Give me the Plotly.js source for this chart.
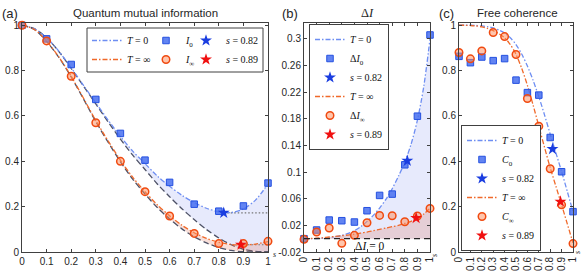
<!DOCTYPE html>
<html><head><meta charset="utf-8">
<script src="https://cdn.plot.ly/plotly-3.0.1.min.js"></script>
<style>html,body{margin:0;padding:0;background:#fff}#plot{width:581px;height:272px}</style>
</head><body><div id="plot"></div>
<script>
// ---------- data ----------
const sGrid = [0,0.1,0.2,0.3,0.4,0.5,0.6,0.7,0.8,0.9,1];
const tGrid = [0,0.05,0.1,0.15,0.2,0.25,0.3,0.35,0.4,0.45,0.5,0.55,0.6,0.65,0.7,0.75,0.8,0.85,0.9,0.95,1];
const xTickText = ['0','0.1','0.2','0.3','0.4','0.5','0.6','0.7','0.8','0.9','1'];
const yTickA = [0,0.2,0.4,0.6,0.8,1];
const yTickAText = ['0','0.2','0.4','0.6','0.8','1'];
const yTickB = [-0.02,0.02,0.06,0.1,0.14,0.18,0.22,0.26,0.3];
const yTickBText = ['-0.02','0.02','0.06','0.1','0.14','0.18','0.22','0.26','0.3'];

// (a) quantum mutual information
const miT0       = [1.0,0.985,0.945,0.885,0.812,0.735,0.658,0.582,0.51,0.445,0.39,0.335,0.29,0.25,0.218,0.193,0.177,0.174,0.19,0.23,0.30];
const miBound0   = [1.0,0.985,0.945,0.884,0.81,0.732,0.653,0.574,0.498,0.427,0.364,0.30,0.244,0.191,0.143,0.099,0.062,0.032,0.012,0.003,0.0];
const miTinf     = [1.0,0.982,0.93,0.86,0.775,0.678,0.58,0.49,0.405,0.33,0.266,0.208,0.16,0.118,0.085,0.06,0.043,0.033,0.031,0.035,0.046];
const miBoundInf = [1.0,0.982,0.929,0.858,0.772,0.675,0.575,0.484,0.398,0.321,0.256,0.196,0.146,0.102,0.067,0.04,0.02,0.007,0.001,0.0,0.0];
const I0   = [1.0,0.94,0.827,0.673,0.523,0.405,0.307,0.211,0.18,0.203,0.304];
const Iinf = [1.0,0.931,0.775,0.57,0.40,0.266,0.159,0.082,0.037,0.037,0.047];
const starS = [0.82, 0.89];
const starI = [0.173, 0.032];

// (b) Delta I
const dT0   = [0,0,0.0003,0.0008,0.0015,0.003,0.005,0.008,0.012,0.018,0.026,0.035,0.046,0.059,0.075,0.094,0.115,0.142,0.178,0.228,0.30];
const dTinf = [0,0.0002,0.0008,0.0015,0.0025,0.0035,0.0045,0.0055,0.007,0.0085,0.01,0.012,0.014,0.016,0.018,0.02,0.023,0.026,0.031,0.037,0.046];
const dI0   = [0,0.013,0.028,0.027,0.025,0.042,0.065,0.067,0.111,0.184,0.306];
const dIinf = [-0.001,0.010,0.016,-0.007,0.005,0.024,0.035,0.0345,0.0255,0.034,0.0455];
const starDI = [0.117, 0.031];

// (c) free coherence
const cT0   = [1,1,1,0.999,0.997,0.994,0.988,0.979,0.966,0.945,0.915,0.873,0.82,0.757,0.685,0.605,0.52,0.437,0.355,0.267,0.178];
const cTinf = [1,1,0.999,0.997,0.993,0.986,0.976,0.963,0.945,0.915,0.872,0.81,0.735,0.648,0.555,0.462,0.372,0.29,0.208,0.124,0.04];
const C0   = [0.863,0.835,0.86,0.844,0.853,0.758,0.703,0.692,0.505,0.354,0.178];
const Cinf = [0.88,0.852,0.887,0.968,0.95,0.871,0.677,0.555,0.367,0.208,0.037];
const starC = [0.454, 0.222];

// ---------- style ----------
const W = 581, H = 272;
const px = p => p / W, py = p => 1 - p / H;
const BLUE_L = '#6e8ef2', ORNG_L = '#f0692a', GRAY_D = '#4d5166';
const BLUE_F = 'rgba(110,130,240,0.17)', ORNG_F = 'rgba(225,110,80,0.22)';
const DASHDOT = '5px,2px,1.5px,2px';
const sqM = {symbol:'square', size:6.5, color:'rgba(70,110,240,0.85)', line:{color:'#2450e0', width:1}};
const ciM = {symbol:'circle', size:7.5, color:'rgba(255,140,90,0.5)', line:{color:'#f04a10', width:1.5}};
const stB = {symbol:'star', size:9, color:'#1a3de0', line:{width:0}};
const stR = {symbol:'star', size:9, color:'#f01010', line:{width:0}};

function lineTr(x, y, xa, ya, color, dash, extra) {
  return Object.assign({x, y, xaxis:xa, yaxis:ya, type:'scatter', mode:'lines',
    line:{color, width:1.3, dash, shape:'spline', smoothing:0.8}, hoverinfo:'skip', showlegend:false}, extra || {});
}
function fillTr(x, y, xa, ya, fill, fc) {
  return {x, y, xaxis:xa, yaxis:ya, type:'scatter', mode:'lines', fill, fillcolor:fc,
    line:{width:0, shape:'spline', smoothing:0.8}, hoverinfo:'skip', showlegend:false};
}
function markTr(x, y, xa, ya, marker, name, legend, rank) {
  return {x, y, xaxis:xa, yaxis:ya, type:'scatter', mode:'markers', marker, name, legend,
    legendrank:rank, showlegend:true, cliponaxis:false, hoverinfo:'skip'};
}

const data = [
  // ----- (a) -----
  lineTr(tGrid, miBound0, 'x', 'y', GRAY_D, '6px,3px'),
  fillTr(tGrid, miT0, 'x', 'y', 'tonexty', BLUE_F),
  lineTr(tGrid, miBoundInf, 'x', 'y', GRAY_D, '6px,3px'),
  fillTr(tGrid, miTinf, 'x', 'y', 'tonexty', ORNG_F),
  lineTr([starS[0], 1], [starI[0], starI[0]], 'x', 'y', '#777', '1.5px,2px', {line:{color:'#777', width:1.2, dash:'1.5px,2px'}}),
  lineTr([starS[1], 1], [starI[1], starI[1]], 'x', 'y', '#777', '1.5px,2px', {line:{color:'#777', width:1.2, dash:'1.5px,2px'}}),
  lineTr(tGrid, miT0, 'x', 'y', BLUE_L, DASHDOT, {showlegend:true, name:'<i>T</i> = 0', legend:'legend', legendrank:1}),
  lineTr(tGrid, miTinf, 'x', 'y', ORNG_L, DASHDOT, {showlegend:true, name:'<i>T</i> = ∞', legend:'legend', legendrank:2}),
  markTr(sGrid, I0, 'x', 'y', sqM, '<i>I</i><sub>0</sub>', 'legend2', 1),
  markTr(sGrid, Iinf, 'x', 'y', ciM, '<i>I</i><sub>∞</sub>', 'legend2', 2),
  markTr([starS[0]], [starI[0]], 'x', 'y', stB, '<i>s</i> = 0.82', 'legend3', 1),
  markTr([starS[1]], [starI[1]], 'x', 'y', stR, '<i>s</i> = 0.89', 'legend3', 2),
  // ----- (b) -----
  fillTr(tGrid, dT0, 'x2', 'y2', 'tozeroy', BLUE_F),
  fillTr(tGrid, dTinf, 'x2', 'y2', 'tozeroy', ORNG_F),
  lineTr(tGrid, dT0, 'x2', 'y2', BLUE_L, DASHDOT, {showlegend:true, name:'<i>T</i> = 0', legend:'legend4', legendrank:1}),
  lineTr(tGrid, dTinf, 'x2', 'y2', ORNG_L, DASHDOT, {showlegend:true, name:'<i>T</i> = ∞', legend:'legend4', legendrank:4}),
  markTr(sGrid, dI0, 'x2', 'y2', sqM, 'Δ<i>I</i><sub>0</sub>', 'legend4', 2),
  markTr(sGrid, dIinf, 'x2', 'y2', ciM, 'Δ<i>I</i><sub>∞</sub>', 'legend4', 5),
  markTr([starS[0]], [starDI[0]], 'x2', 'y2', stB, '<i>s</i> = 0.82', 'legend4', 3),
  markTr([starS[1]], [starDI[1]], 'x2', 'y2', stR, '<i>s</i> = 0.89', 'legend4', 6),
  // ----- (c) -----
  lineTr(tGrid, cT0, 'x3', 'y3', BLUE_L, DASHDOT, {showlegend:true, name:'<i>T</i> = 0', legend:'legend5', legendrank:1}),
  lineTr(tGrid, cTinf, 'x3', 'y3', ORNG_L, DASHDOT, {showlegend:true, name:'<i>T</i> = ∞', legend:'legend5', legendrank:4}),
  markTr(sGrid, C0, 'x3', 'y3', sqM, '<i>C</i><sub>0</sub>', 'legend5', 2),
  markTr(sGrid, Cinf, 'x3', 'y3', ciM, '<i>C</i><sub>∞</sub>', 'legend5', 5),
  markTr([starS[0]], [starC[0]], 'x3', 'y3', stB, '<i>s</i> = 0.82', 'legend5', 3),
  markTr([starS[1]], [starC[1]], 'x3', 'y3', stR, '<i>s</i> = 0.89', 'legend5', 6)
];

const TICKF = {family:'Liberation Sans, Arial, sans-serif', size:10, color:'#262626'};
function ax(extra) {
  return Object.assign({showline:true, linecolor:'#404040', linewidth:1, mirror:'ticks', ticks:'inside',
    ticklen:3, tickwidth:1, tickcolor:'#404040', showgrid:false, zeroline:false, tickfont:TICKF,
    fixedrange:true}, extra);
}
const yDom = [20/H, 249/H];
const LEGF = {family:'Liberation Serif, Times New Roman, serif', size:10, color:'#111'};
function leg(x, y, xanchor, yanchor, border) {
  return {x, y, xanchor, yanchor, xref:'paper', yref:'paper', orientation:'v', traceorder:'normal',
    bgcolor: border ? '#fff' : 'rgba(0,0,0,0)', bordercolor:'#404040', borderwidth: border ? 1 : 0,
    font:LEGF, itemwidth:30, tracegroupgap:0};
}
const ann = (text, x, y, size, family, extra) => Object.assign({text, x, y, xref:'paper', yref:'paper',
  showarrow:false, xanchor:'center', yanchor:'middle', font:{size, family, color:'#262626'}}, extra || {});
const SANS = 'Liberation Sans, Arial, sans-serif', SERIF = 'Liberation Serif, Times New Roman, serif';

const layout = {
  width:W, height:H, margin:{l:0, r:0, t:0, b:0}, paper_bgcolor:'#fff', plot_bgcolor:'rgba(0,0,0,0)',
  showlegend:true,
  xaxis:  ax({domain:[22/W, 268/W], range:[0,1], anchor:'y', tickvals:sGrid, ticktext:xTickText}),
  yaxis:  ax({domain:yDom, range:[0,1.01], anchor:'x', tickvals:yTickA, ticktext:yTickAText}),
  xaxis2: ax({domain:[304/W, 430/W], range:[0,1], anchor:'y2', tickvals:sGrid, ticktext:xTickText, tickangle:-90}),
  yaxis2: ax({domain:yDom, range:[-0.02,0.324], anchor:'x2', tickvals:yTickB, ticktext:yTickBText}),
  xaxis3: ax({domain:[459/W, 573/W], range:[0,1], anchor:'y3', tickvals:sGrid, ticktext:xTickText, tickangle:-90}),
  yaxis3: ax({domain:yDom, range:[0,1.01], anchor:'x3', tickvals:yTickA, ticktext:yTickAText}),
  legend:  leg(px(87), py(26), 'left', 'top', false),
  legend2: leg(px(146), py(26), 'left', 'top', false),
  legend3: leg(px(186), py(26), 'left', 'top', false),
  legend4: leg(px(309), py(24), 'left', 'top', true),
  legend5: leg(px(461), py(251), 'left', 'bottom', true),
  shapes: [
    {type:'rect', xref:'paper', yref:'paper', x0:px(87), x1:px(263), y0:py(72), y1:py(28),
     line:{color:'#404040', width:1}, fillcolor:'#fff', layer:'above'},
    {type:'line', xref:'x2', yref:'y2', x0:0, x1:1, y0:0, y1:0, line:{color:'#222', width:1.2, dash:'6px,4px'}, layer:'above'}
  ],
  annotations: [
    ann('(a)', px(10), py(13), 13, SANS),
    ann('(b)', px(290), py(13), 13, SANS),
    ann('(c)', px(446), py(13), 13, SANS),
    ann('Quantum mutual information', px(145), py(13), 11.5, SANS),
    ann('Δ<i>I</i>', px(367), py(13), 12.5, SERIF),
    ann('Free coherence', px(517), py(13), 11.5, SANS),
    ann('<i>s</i>', px(274), py(254), 8, SERIF),
    ann('<i>s</i>', px(434), py(256), 8, SERIF, {textangle:-90}),
    ann('<i>s</i>', px(577), py(253), 8, SERIF, {textangle:-90}),
    {text:'Δ<i>I</i> = 0', x:0.52, y:-0.0105, xref:'x2', yref:'y2', showarrow:false,
     font:{size:11.5, family:SERIF, color:'#111'}, xanchor:'center', yanchor:'middle'}
  ]
};

Plotly.newPlot('plot', data, layout, {staticPlot:true, displayModeBar:false});
</script>
</body></html>
